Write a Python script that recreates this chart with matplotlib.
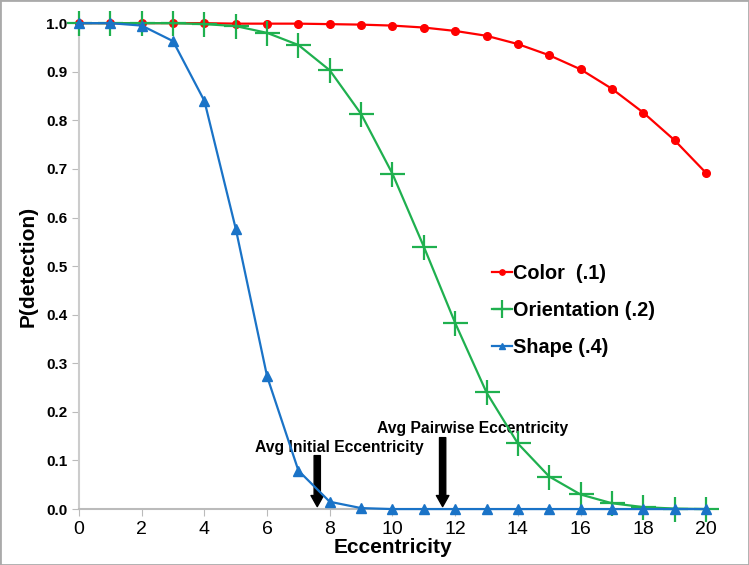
import numpy as np
import matplotlib.pyplot as plt

ecc = list(range(21))
color = [1.0, 1.0, 1.0, 1.0, 1.0, 0.999, 0.999, 0.999, 0.998, 0.997, 0.995,
         0.991, 0.984, 0.974, 0.957, 0.934, 0.905, 0.865, 0.816, 0.759, 0.692]
orientation = [1.0, 1.0, 1.0, 1.0, 0.998, 0.994, 0.98, 0.955, 0.903, 0.813, 0.69,
               0.54, 0.383, 0.24, 0.135, 0.067, 0.03, 0.012, 0.004, 0.001, 0.0]
shape = [1.0, 1.0, 0.995, 0.963, 0.84, 0.577, 0.273, 0.079, 0.015, 0.002, 0.0,
         0.0, 0.0, 0.0, 0.0, 0.0, 0.0, 0.0, 0.0, 0.0, 0.0]
labels = ['Color  (.1)', 'Orientation (.2)', 'Shape (.4)']
notes = ['Avg Initial Eccentricity', 'Avg Pairwise Eccentricity']
note_x = [7.6, 11.6]

plt.rcParams['font.family'] = ['Liberation Sans', 'DejaVu Sans']

fig = plt.figure(figsize=(7.49, 5.65), dpi=100)
ax = fig.add_axes([0.1055, 0.099, 0.837, 0.86])

ax.plot(ecc, color, '-o', color='#ff0000', ms=5.5, lw=1.6, label=labels[0], clip_on=False, zorder=3)
ax.plot(ecc, orientation, '-+', color='#1fb04f', ms=18, mew=1.6, lw=1.6, label=labels[1], clip_on=False, zorder=4)
ax.plot(ecc, shape, '-^', color='#1a73c7', ms=7, lw=1.6, label=labels[2], clip_on=False, zorder=5)

ax.set_xlim(0, 20)
ax.set_ylim(0, 1.0)
ax.set_xticks(range(0, 21, 2))
ax.set_yticks(np.arange(0, 1.01, 0.1))
ax.set_yticklabels(['%.1f' % v for v in np.arange(0, 1.01, 0.1)], fontweight='bold', fontsize=11)
ax.tick_params(axis='x', labelsize=14, length=5, color='#bbbbbb', direction='out')
ax.tick_params(axis='y', length=5, color='#bbbbbb', direction='out')
for s in ['top', 'right']:
    ax.spines[s].set_visible(False)
ax.spines['left'].set_color('#cccccc')
ax.spines['bottom'].set_color('#bbbbbb')
ax.spines['left'].set_linewidth(1.5)
ax.spines['bottom'].set_linewidth(1.5)

ax.set_xlabel('Eccentricity', fontsize=15, fontweight='bold', labelpad=0)
ax.set_ylabel('P(detection)', fontsize=15, fontweight='bold', labelpad=6)

# arrows for the two averages
arrow = dict(facecolor='black', edgecolor='black', width=4.5, headwidth=9, headlength=8)
ax.annotate('', xy=(note_x[0], 0.005), xytext=(note_x[0], 0.11), arrowprops=arrow)
ax.text(8.29, 0.126, notes[0], fontsize=11.3, fontweight='bold', ha='center', va='center')
ax.annotate('', xy=(note_x[1], 0.005), xytext=(note_x[1], 0.147), arrowprops=arrow)
ax.text(12.54, 0.165, notes[1], fontsize=11.3, fontweight='bold', ha='center', va='center')

leg = ax.legend(loc='center left', bbox_to_anchor=(0.633, 0.451), bbox_transform=fig.transFigure,
                frameon=False, fontsize=14.3, handlelength=1.0, handletextpad=0.05,
                labelspacing=0.9, markerscale=0.7)
for t in leg.get_texts():
    t.set_fontweight('bold')

fig.patches.append(plt.Rectangle((0, 0), 1, 1, transform=fig.transFigure, fill=False,
                                 edgecolor='#aaaaaa', lw=2))

plt.savefig('out.png', dpi=100)
